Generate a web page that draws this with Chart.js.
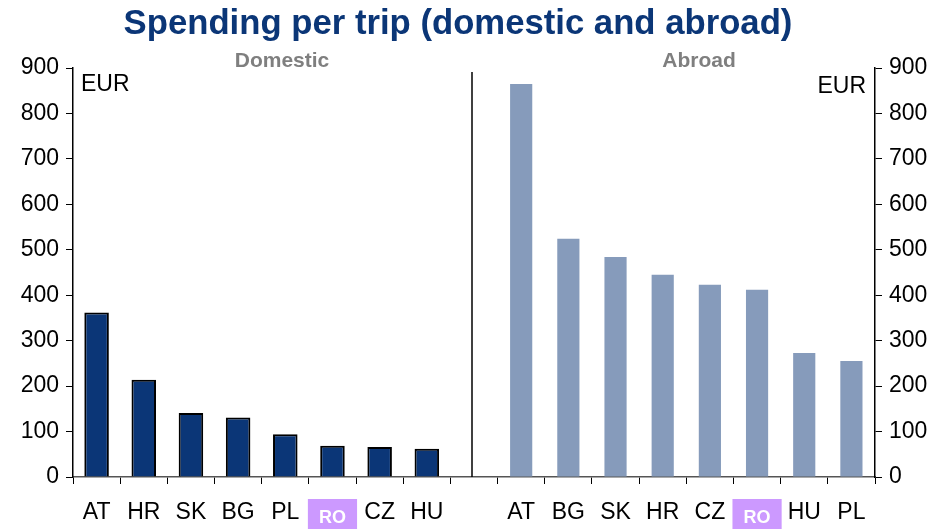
<!DOCTYPE html>
<html>
<head>
<meta charset="utf-8">
<script src="https://cdn.jsdelivr.net/npm/chart.js@4"></script>
<style>
  body{margin:0;background:#fff}
  canvas{display:block}
</style>
</head>
<body>
<canvas id="chart" width="938" height="529"></canvas>
<script>
// data
const domesticLabels = ['AT','HR','SK','BG','PL','RO','CZ','HU'];
const domesticValues = [362, 214, 141, 131, 94, 69, 66, 62];
const abroadLabels = ['AT','BG','SK','HR','CZ','RO','HU','PL'];
const abroadValues = [865, 524, 484, 445, 423, 412, 273, 255];
const yTicks = [0,100,200,300,400,500,600,700,800,900];

const FONT = "'Liberation Sans', Arial, sans-serif";
const labels = [...domesticLabels, '', ...abroadLabels];
const gap = domesticLabels.map(()=>null);
const domData = [...domesticValues, null, ...abroadLabels.map(()=>null)];
const abrData = [...gap, null, ...abroadValues];
const isRO = i => labels[i]==='RO';

// extra bits: title, panel headings, EUR, separator, RO highlight
const decor = {
  id:'decor',
  beforeDraw(chart){
    const {ctx, scales:{x}} = chart;
    const w = x.getPixelForValue(1) - x.getPixelForValue(0);
    ctx.save();
    ctx.fillStyle = '#cc99ff';
    labels.forEach((l,i)=>{
      if(isRO(i)) ctx.fillRect(x.getPixelForValue(i) - w/2 - 1, 499, w + 2, 30);
    });
    ctx.restore();
  },
  afterDraw(chart){
    const {ctx, chartArea:a, scales:{x}} = chart;
    ctx.save();
    // RO label on its purple box
    ctx.fillStyle = '#fff';
    ctx.font = 'bold 18px ' + FONT;
    ctx.textAlign = 'center';
    ctx.textBaseline = 'middle';
    labels.forEach((l,i)=>{ if(isRO(i)) ctx.fillText(l, x.getPixelForValue(i), 518); });

    // separator between the two panels
    const sx = x.getPixelForValue(domesticLabels.length) - 2;
    ctx.strokeStyle = '#000';
    ctx.lineWidth = 1.5;
    ctx.beginPath();
    ctx.moveTo(sx, a.top + 4);
    ctx.lineTo(sx, a.bottom);
    ctx.stroke();

    ctx.fillStyle = '#0b3677';
    ctx.font = 'bold 34.7px ' + FONT;
    ctx.textBaseline = 'alphabetic';
    ctx.fillText('Spending per trip (domestic and abroad)', 458, 34);

    ctx.fillStyle = '#7f7f7f';
    ctx.font = 'bold 21px ' + FONT;
    ctx.textBaseline = 'middle';
    ctx.fillText('Domestic', 282, 61);
    ctx.fillText('Abroad', 699, 61);

    ctx.fillStyle = '#000';
    ctx.font = '23px ' + FONT;
    ctx.textAlign = 'left';
    ctx.fillText('EUR', 81, 85);
    ctx.textAlign = 'right';
    ctx.fillText('EUR', 866, 87);
    ctx.restore();
  }
};

const yAxis = (pos, width) => ({
  type:'linear', position:pos, min:0, max:900,
  afterBuildTicks: s => { s.ticks = yTicks.map(v=>({value:v})); },
  afterFit: s => { s.width = width; },
  grid:{drawOnChartArea:false, drawTicks:true, tickLength:7, color:'#000', lineWidth:1},
  border:{display:true, color:'#000', width:1.5},
  ticks:{color:'#000', padding:7, font:{family:FONT, size:23}}
});

new Chart(document.getElementById('chart'), {
  type:'bar',
  data:{
    labels,
    datasets:[
      {label:'Domestic', data:domData, backgroundColor:'#0b3677', borderColor:'#000',
       borderWidth:2, barPercentage:0.52, categoryPercentage:1, grouped:false, yAxisID:'y'},
      {label:'Abroad', data:abrData, backgroundColor:'#869bbb', borderWidth:0,
       barPercentage:0.47, categoryPercentage:1, grouped:false, yAxisID:'y2'}
    ]
  },
  options:{
    responsive:false,
    animation:false,
    layout:{padding:{top:68, left:0, right:0, bottom:0}},
    plugins:{legend:{display:false}, tooltip:{enabled:false}, title:{display:false}},
    scales:{
      x:{
        afterFit: s => { s.height = 52; },
        grid:{drawOnChartArea:false, drawTicks:true, tickLength:7, color:'#000', offset:true},
        border:{display:true, color:'#555', width:1.5},
        ticks:{
          autoSkip:false, maxRotation:0, padding:15,
          color: c => isRO(c.index) ? 'rgba(0,0,0,0)' : '#000',
          font:{family:FONT, size:23}
        }
      },
      y: yAxis('left', 73),
      y2: yAxis('right', 63)
    }
  },
  plugins:[decor]
});
</script>
</body>
</html>
